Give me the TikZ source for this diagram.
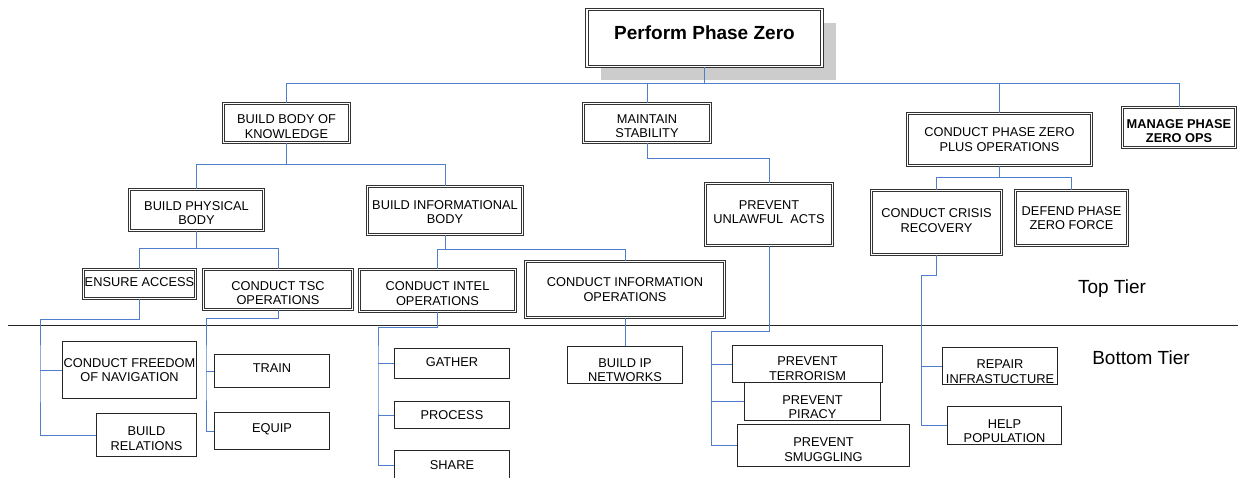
\documentclass[tikz,border=0pt]{standalone}
\usepackage{fontspec}
\setmainfont{Liberation Sans}
\usetikzlibrary{shadows}
\definecolor{linkblue}{RGB}{79,126,204}
\newcommand{\boxfont}{\fontsize{12.8}{14.7}\selectfont}
\newcommand{\tierfont}{\fontsize{19}{22}\selectfont}

\begin{document}
\begin{tikzpicture}[x=1pt, y=-1pt,
  topbox/.style={draw=black!80, double, double distance=1.5pt, line width=0.8pt, fill=white, align=center, font=\boxfont, inner sep=1pt},
  botbox/.style={draw=black!85, line width=1pt, fill=white, align=center, font=\boxfont, inner sep=1pt},
  link/.style={draw=linkblue, line width=1pt},
  textdown/.style={text height=#1},
  textup/.style={text depth=#1}]
\useasboundingbox (0,0) rectangle (1238,478);

\node[topbox, minimum width=235pt, minimum height=57pt, font=\tierfont\bfseries, textup=10pt,
  drop shadow={shadow xshift=14pt, shadow yshift=-14pt, fill=black!20, opacity=1}] (ppz) at (704.5,38) {Perform Phase Zero};

\node[topbox, minimum width=126pt, minimum height=39pt, textdown=30.9pt] (bbk) at (286.5,123) {BUILD BODY OF\\KNOWLEDGE};
\node[topbox, minimum width=127pt, minimum height=39pt, textdown=29.9pt] (ms) at (647,123) {MAINTAIN\\STABILITY};
\node[topbox, minimum width=184pt, minimum height=52pt] (cpz) at (999.5,139.5) {CONDUCT PHASE ZERO\\PLUS OPERATIONS};
\node[topbox, minimum width=113pt, minimum height=40pt, font=\boxfont\bfseries, textdown=30.9pt] (mpzo) at (1179,127.5) {MANAGE PHASE\\ZERO OPS};

\node[topbox, minimum width=134pt, minimum height=41pt, textdown=29.9pt] (bpb) at (196.5,210) {BUILD PHYSICAL\\BODY};
\node[topbox, minimum width=155pt, minimum height=48pt, textdown=26.9pt] (bib) at (445,210.5) {BUILD INFORMATIONAL\\BODY};
\node[topbox, minimum width=127pt, minimum height=62pt, textup=5pt] (pua) at (769,214.5) {PREVENT\\UNLAWFUL\ \ ACTS};
\node[topbox, minimum width=130pt, minimum height=64pt, textup=4pt] (ccr) at (936.5,222.5) {CONDUCT CRISIS\\RECOVERY};
\node[topbox, minimum width=112pt, minimum height=55pt] (dpzf) at (1071.5,218) {DEFEND PHASE\\ZERO FORCE};

\node[topbox, minimum width=112pt, minimum height=29pt, textup=4pt] (ea) at (139.5,284) {ENSURE ACCESS};
\node[topbox, minimum width=149pt, minimum height=40pt, textdown=30.9pt] (tsc) at (278,289.5) {CONDUCT TSC\\OPERATIONS};
\node[topbox, minimum width=156pt, minimum height=42pt, textdown=29.9pt] (cintel) at (437.5,290.5) {CONDUCT INTEL\\OPERATIONS};
\node[topbox, minimum width=199pt, minimum height=56pt] (cinfo) at (625,289.5) {CONDUCT INFORMATION\\OPERATIONS};

\node[botbox, minimum width=134pt, minimum height=57pt] (cfn) at (129.5,370) {CONDUCT FREEDOM\\OF NAVIGATION};
\node[botbox, minimum width=100pt, minimum height=43pt, textdown=30.9pt] (br) at (146.5,435) {BUILD\\RELATIONS};
\node[botbox, minimum width=115pt, minimum height=33pt, textup=5pt] (train) at (272,371) {TRAIN};
\node[botbox, minimum width=115pt, minimum height=37pt, textup=5pt] (equip) at (272,431) {EQUIP};
\node[botbox, minimum width=115pt, minimum height=30pt, textup=3pt] (gather) at (452,363.5) {GATHER};
\node[botbox, minimum width=115pt, minimum height=27pt] (process) at (452,415) {PROCESS};
\node[botbox, minimum width=115pt, minimum height=30pt] (share) at (452,465.5) {SHARE};
\node[botbox, minimum width=115pt, minimum height=35pt, textdown=33.9pt] (bip) at (625,365) {BUILD IP\\NETWORKS};
\node[botbox, minimum width=150pt, minimum height=37pt, textdown=32.9pt] (pterr) at (807.5,364) {PREVENT\\TERRORISM};
\node[botbox, minimum width=136pt, minimum height=34pt, textdown=34.9pt] (ppir) at (812.5,401.5) {PREVENT\\PIRACY};
\node[botbox, minimum width=172pt, minimum height=42pt, textdown=31.9pt] (psmug) at (823.5,445.5) {PREVENT\\SMUGGLING};
\node[botbox, minimum width=115pt, minimum height=35pt, textdown=34.9pt] (repair) at (1000,366) {REPAIR\\INFRASTUCTURE};
\node[botbox, minimum width=114pt, minimum height=36pt, textdown=34.9pt] (help) at (1004.5,425.5) {HELP\\POPULATION};

\node[font=\tierfont] (toptier) at (1112,289) {Top Tier};
\node[font=\tierfont] (bottier) at (1141,358) {Bottom Tier};

% tier divider
\coordinate (tierL) at (8,325);
\coordinate (tierR) at (1238,325);
\draw[black!85, line width=0.9pt] (tierL) -- (tierR);

% top spine
\coordinate (spine) at (0,84);
\draw[link] (ppz.south) -- (ppz.south |- spine);
\draw[link] (bbk.north) |- (spine -| mpzo.north) -- (mpzo.north);
\draw[link] (ms.north) -- (ms.north |- spine);
\draw[link] (cpz.north) -- (cpz.north |- spine);

\draw[link] (bbk.south) -- ++(0,22) -| (bpb.north);
\draw[link] (bbk.south) ++(0,22) -| (bib.north);
\draw[link] (bpb.south) -- ++(0,18) -| (ea.north);
\draw[link] (bpb.south) ++(0,18) -| (tsc.north);
\draw[link] (bib.south) -- ++(0,15) -| (cintel.north);
\draw[link] (bib.south) ++(0,15) -| (cinfo.north);
\draw[link] (ms.south) -- ++(0,16) -| (pua.north);
\draw[link] (cpz.south) -- ++(0,12) -| (ccr.north);
\draw[link] (cpz.south) ++(0,12) -| (dpzf.north);

% down into the bottom tier
\draw[link] (ea.south) -- ++(0,21) -| ([xshift=-22pt]cfn.west) coordinate (eaTrunk) |- (br.west);
\draw[link] (eaTrunk) -- (cfn.west);
\draw[link] (tsc.south) -- ++(0,9) -| ([xshift=-8pt]train.west) coordinate (tscTrunk) |- (equip.west);
\draw[link] (tscTrunk) -- (train.west);
\draw[link] (cintel.south) -- ++(0,16) -| ([xshift=-16pt]gather.west) coordinate (intelTrunk) |- (share.west);
\draw[link] (intelTrunk) -- (gather.west);
\draw[link] (intelTrunk |- process.west) -- (process.west);
\draw[link] (cinfo.south) -- (bip.north);
\draw[link] (pua.south) -- ++(0,86) -| ([xshift=-21pt]pterr.west) coordinate (puaTrunk) |- (psmug.west);
\draw[link] (puaTrunk) -- (pterr.west);
\draw[link] (puaTrunk |- ppir.west) -- (ppir.west);
\draw[link] (ccr.south) -- ++(0,21) -| ([xshift=-21pt]repair.west) coordinate (ccrTrunk) |- (help.west);
\draw[link] (ccrTrunk) -- (repair.west);
\end{tikzpicture}
\end{document}
